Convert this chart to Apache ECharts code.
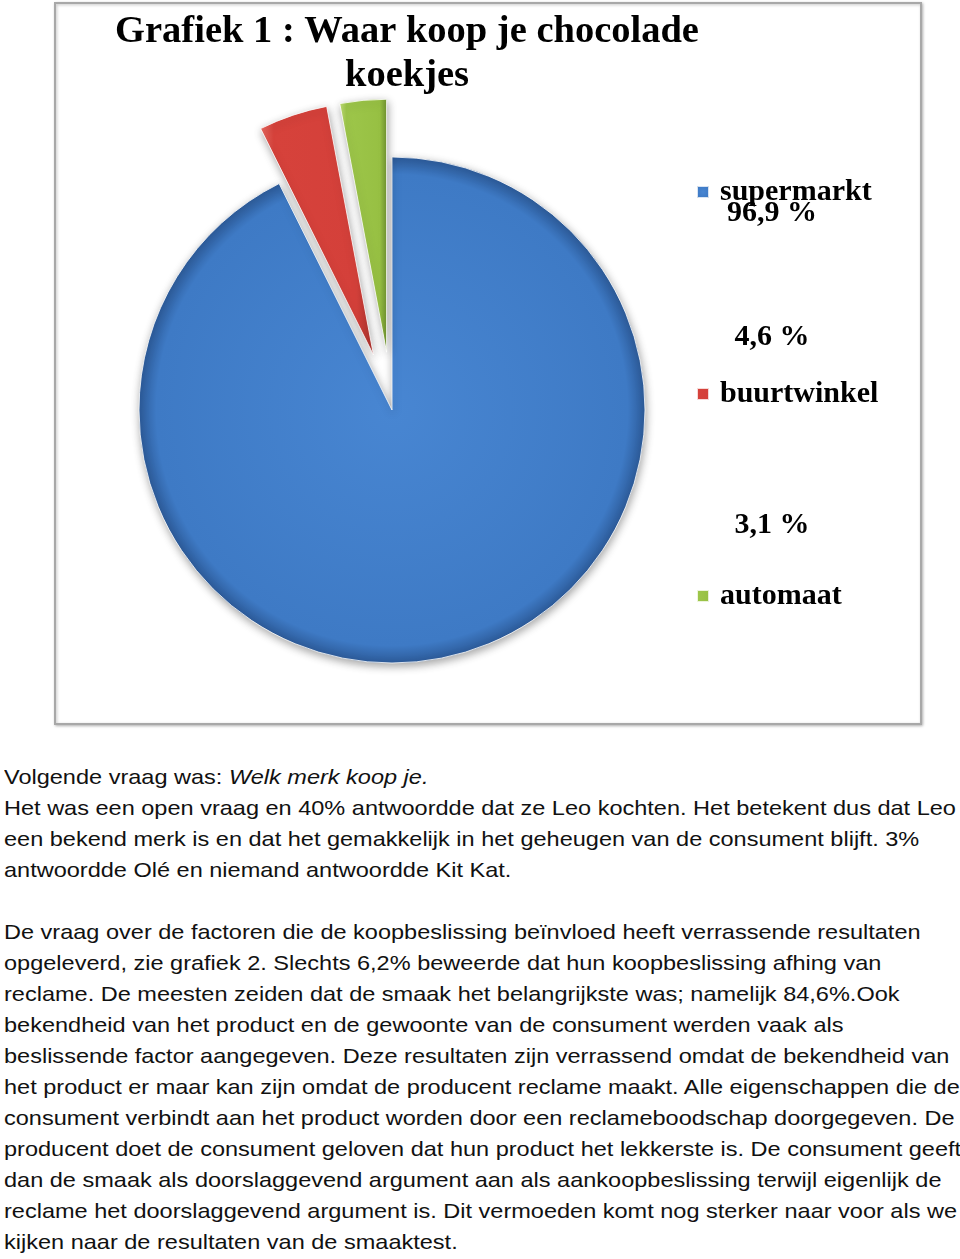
<!DOCTYPE html>
<html>
<head>
<meta charset="utf-8">
<script src="https://cdn.jsdelivr.net/npm/echarts@6/dist/echarts.min.js"></script>
<style>
  html, body { margin: 0; padding: 0; background: #fff; overflow: hidden; }
  #chart { position: absolute; left: 0; top: 0; width: 960px; height: 740px; }
  #text { position: absolute; left: 4px; top: 761px; font-family: "Liberation Sans", Arial, sans-serif;
          font-size: 21px; line-height: 31px; color: #111; white-space: nowrap;
          transform: scaleX(1.12); transform-origin: 0 0; }
  #text div { height: 31px; }
</style>
</head>
<body>
<div id="chart"></div>
<div id="text">
<div>Volgende vraag was: <i>Welk merk koop je.</i></div>
<div>Het was een open vraag en 40% antwoordde dat ze Leo kochten. Het betekent dus dat Leo</div>
<div>een bekend merk is en dat het gemakkelijk in het geheugen van de consument blijft. 3%</div>
<div>antwoordde Olé en niemand antwoordde Kit Kat.</div>
<div></div>
<div>De vraag over de factoren die de koopbeslissing beïnvloed heeft verrassende resultaten</div>
<div>opgeleverd, zie grafiek 2. Slechts 6,2% beweerde dat hun koopbeslissing afhing van</div>
<div>reclame. De meesten zeiden dat de smaak het belangrijkste was; namelijk 84,6%.Ook</div>
<div>bekendheid van het product en de gewoonte van de consument werden vaak als</div>
<div>beslissende factor aangegeven. Deze resultaten zijn verrassend omdat de bekendheid van</div>
<div>het product er maar kan zijn omdat de producent reclame maakt. Alle eigenschappen die de</div>
<div>consument verbindt aan het product worden door een reclameboodschap doorgegeven. De</div>
<div>producent doet de consument geloven dat hun product het lekkerste is. De consument geeft</div>
<div>dan de smaak als doorslaggevend argument aan als aankoopbeslissing terwijl eigenlijk de</div>
<div>reclame het doorslaggevend argument is. Dit vermoeden komt nog sterker naar voor als we</div>
<div>kijken naar de resultaten van de smaaktest.</div>
</div>
<script>
var titleText = 'Grafiek 1 : Waar koop je chocolade\nkoekjes';
var categories = ['supermarkt', 'buurtwinkel', 'automaat'];
var values = [96.9, 4.6, 3.1];
var exploded = [false, true, true];

var serif = '"Liberation Serif", "Times New Roman", serif';

var styles = [
  { color: { type: 'radial', x: 0.5, y: 0.5, r: 0.5, colorStops: [
      { offset: 0, color: '#4886d2' }, { offset: 0.93, color: '#3e7ac5' }, { offset: 1, color: '#2c5a98' }] } },
  { color: { type: 'linear', x: 0, y: 0, x2: 1, y2: 0, colorStops: [
      { offset: 0, color: '#e86a62' }, { offset: 0.12, color: '#d6423b' }, { offset: 0.85, color: '#d4403a' }, { offset: 1, color: '#a8302b' }] } },
  { color: { type: 'linear', x: 0, y: 0, x2: 1, y2: 0, colorStops: [
      { offset: 0, color: '#c4e07a' }, { offset: 0.15, color: '#9dc64a' }, { offset: 0.85, color: '#97c043' }, { offset: 1, color: '#6f9230' }] } }
];

var pieData = categories.map(function (c, i) {
  return { name: c, value: values[i], selected: exploded[i],
           itemStyle: { color: styles[i].color } };
});

function fmt(v) { return String(v).replace('.', ',') + ' %'; }
var labelPos = [[772, 213], [772, 337], [772, 525]];

var chart = echarts.init(document.getElementById('chart'), null, { renderer: 'canvas' });
chart.setOption({
  animation: false,
  title: {
    text: titleText, left: 402, top: 5, textAlign: 'center',
    textStyle: { fontFamily: serif, fontWeight: 'bold', fontSize: 38.5, lineHeight: 44, color: '#000' }
  },
  legend: {
    orient: 'vertical', left: 691, top: 172, itemGap: 172,
    icon: 'rect', itemWidth: 12, itemHeight: 12, selectedMode: false,
    data: categories,
    textStyle: { fontFamily: serif, fontWeight: 'bold', fontSize: 30, color: '#000', padding: [0, 0, 0, 6] }
  },
  graphic: [
    { type: 'rect', shape: { x: 55, y: 3, width: 866, height: 721 }, silent: true, z: -10,
      style: { fill: '#fff', stroke: '#a8a8a8', lineWidth: 2, shadowBlur: 3, shadowColor: 'rgba(0,0,0,0.25)', shadowOffsetX: 1, shadowOffsetY: 1 } }
  ].concat(values.map(function (v, i) {
    return { type: 'text', x: labelPos[i][0], y: labelPos[i][1], silent: true,
      style: { text: fmt(v), fill: '#000', font: 'bold 30px ' + serif, textAlign: 'center', textVerticalAlign: 'middle' } };
  })),
  series: [{
    type: 'pie', center: [392, 410], radius: 253, startAngle: 90, clockwise: true,
    selectedMode: 'multiple', selectedOffset: 58, avoidLabelOverlap: false,
    label: { show: false }, labelLine: { show: false },
    emphasis: { disabled: true },
    itemStyle: { borderColor: 'rgba(255,255,255,0.8)', borderWidth: 1,
      shadowBlur: 8, shadowColor: 'rgba(0,0,0,0.35)', shadowOffsetX: 1, shadowOffsetY: 3 },
    data: pieData
  }]
});
</script>
</body>
</html>
